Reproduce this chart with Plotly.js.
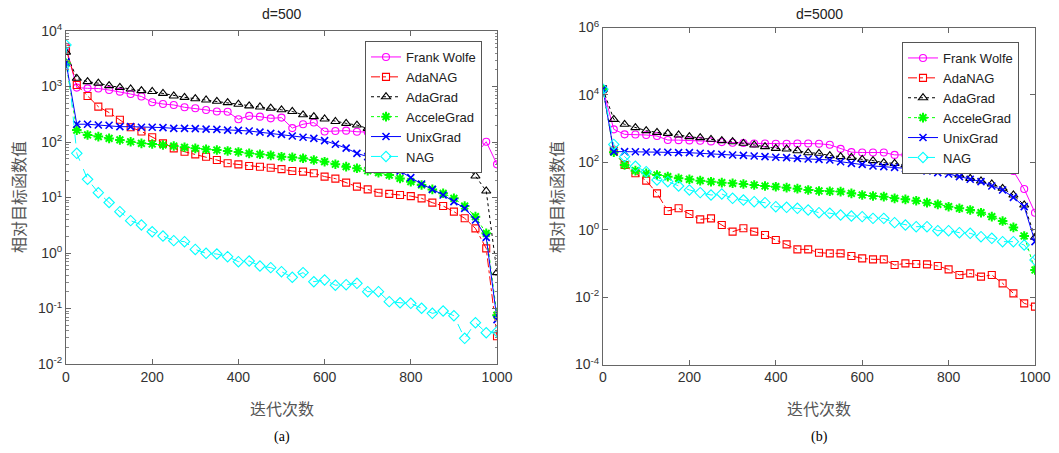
<!DOCTYPE html>
<html><head><meta charset="utf-8">
<script src="https://cdn.plot.ly/plotly-3.0.1.min.js"></script>
<style>html,body{margin:0;padding:0;background:#fff}#chart{width:1059px;height:453px}</style>
</head><body><div id="chart"></div>
<script>
const iterations = [0,25,50,75,100,125,150,175,200,225,250,275,300,325,350,375,400,425,450,475,500,525,550,575,600,625,650,675,700,725,750,775,800,825,850,875,900,925,950,975,1000];

// d = 500
const fw500 = [5200,955,927,920,865,807,733,661,519,484,465,422,405,378,355,350,257,295,286,267,275,178,209,224,155,158,160,153,151,141,132,126,112,105,95.5,89.1,79.4,70.8,58.9,101,39.6];
const adanag500 = [4790,1064,676,433,339,251,184,155,122,94.6,76.9,66.8,59.8,54.3,47.4,41.3,39.6,37.0,35.9,34.4,32.4,30.0,29.2,27.3,23.8,21.9,18.5,15.7,14.0,12.2,11.6,11.1,10.6,9.66,8.07,7.03,5.56,4.22,2.78,1.21,0.0316];
const adagrad500 = [4170,1406,1222,1148,1035,966,902,841,813,753,676,638,603,571,541,513,479,447,427,407,380,355,309,286,260,234,217,202,176,151,129,110,93.3,79.4,67.6,57.5,48.8,38.5,24.4,13.1,0.443];
const accelegrad500 = [2630,164,134,125,116,109,101,94.6,92.0,88.3,84.7,80.2,76.9,73.8,71.8,68.9,66.1,62.5,60.0,57.5,54.3,53.0,50.8,47.4,44.2,39.8,36.0,33.6,30.4,28.0,25.4,22.1,19.3,16.8,14.0,11.9,9.66,7.03,4.52,2.26,0.0759];
const unixgrad500 = [2750,209,209,202,200,189,189,184,184,182,176,176,174,171,169,164,162,158,151,143,137,128,122,116,106,91.2,77.6,62.5,54.5,45.5,37.0,30.0,22.8,17.5,14.0,11.1,8.41,6.38,3.94,1.91,0.0631];
const nag500 = [5620,62.5,21.3,12.2,8.13,5.56,3.83,3.20,2.42,2.02,1.67,1.60,1.16,0.986,0.959,0.859,0.698,0.718,0.583,0.545,0.461,0.365,0.443,0.304,0.327,0.263,0.269,0.284,0.201,0.201,0.133,0.127,0.124,0.101,0.0818,0.0902,0.0741,0.0290,0.0555,0.0366,0.0382];

// d = 5000
const fw5000 = [14800,951,676,670,646,603,457,455,447,437,417,398,380,372,363,363,355,355,363,363,355,331,251,200,195,195,195,166,166,132,117,66.1,58.9,87.1,117,61.7,61.7,61.7,55.0,16.2,3.20];
const adanag5000 = [14800,224,83.2,47.1,28.5,12.0,3.59,4.31,2.92,2.03,2.17,1.38,0.875,1.10,0.875,0.697,0.494,0.368,0.261,0.261,0.208,0.199,0.199,0.166,0.141,0.132,0.132,0.0897,0.100,0.0959,0.0938,0.0838,0.0667,0.0453,0.0507,0.0404,0.0453,0.0256,0.0129,0.00653,0.00520];
const adagrad5000 = [14800,1884,1340,1067,869,774,724,646,577,538,481,439,409,366,326,291,259,248,221,193,185,158,147,140,122,112,97.5,93.1,83.2,71.0,61.8,59.2,52.7,42.0,33.4,27.9,22.7,16.9,10.7,5.41,0.594];
const accelegrad5000 = [14800,200,83.2,56.5,47.1,42.0,37.5,33.4,31.3,28.5,26.6,24.9,23.8,22.7,21.2,19.8,18.9,17.7,16.5,15.1,14.1,13.8,13.5,12.0,10.7,10.0,9.55,8.53,7.96,7.26,6.34,5.66,4.82,4.31,3.85,3.20,2.44,1.81,1.17,0.650,0.0637];
const unixgrad5000 = [14800,207,207,206,202,202,198,193,193,185,177,173,165,161,154,147,141,137,131,125,122,117,104,93.1,87.1,77.6,74.1,71.0,66.2,59.2,55.2,49.2,45.0,37.5,31.3,26.6,19.8,15.1,9.14,4.82,0.442];
const nag5000 = [14800,339,147,75.9,52.7,29.9,26.6,19.8,15.1,12.6,10.7,11.5,8.53,7.60,6.79,6.34,4.82,4.61,4.31,3.85,3.20,3.09,2.73,2.55,2.44,2.17,2.17,1.62,1.38,1.23,1.23,0.935,0.935,0.817,0.780,0.621,0.555,0.442,0.442,0.352,0.126];

const seriesNames = ['Frank Wolfe','AdaNAG','AdaGrad','AcceleGrad','UnixGrad','NAG'];
const xTickVals = [0,200,400,600,800,1000];
const yTickVals500 = [0.01,0.1,1,10,100,1000,10000];
const yTickText500 = ['10<sup>-2</sup>','10<sup>-1</sup>','10<sup>0</sup>','10<sup>1</sup>','10<sup>2</sup>','10<sup>3</sup>','10<sup>4</sup>'];
const yTickVals5000 = [1e-4,1e-2,1,1e2,1e4,1e6];
const yTickText5000 = ['10<sup>-4</sup>','10<sup>-2</sup>','10<sup>0</sup>','10<sup>2</sup>','10<sup>4</sup>','10<sup>6</sup>'];
const panelTitles = ['d=500','d=5000'];
const xLabel = '迭代次数';
const yLabel = '相对目标函数值';
const captions = ['(a)','(b)'];

const styles = [
  {color:'#ff00ff', dash:'solid', symbol:'circle-open', size:7},
  {color:'#ff0000', dash:'dashdot', symbol:'square-open', size:7},
  {color:'#000000', dash:'dot', symbol:'triangle-up-open', size:8},
  {color:'#00ff00', dash:'dot', symbol:'asterisk-open', size:8},
  {color:'#0000ff', dash:'solid', symbol:'x-thin-open', size:7},
  {color:'#00ffff', dash:'dash', symbol:'diamond-open', size:8}
];

const data500 = [fw500, adanag500, adagrad500, accelegrad500, unixgrad500, nag500];
const data5000 = [fw5000, adanag5000, adagrad5000, accelegrad5000, unixgrad5000, nag5000];

const traces = [];
function addPanel(dataArr, xa, ya, legendId) {
  dataArr.forEach((ys, i) => {
    const s = styles[i];
    traces.push({
      x: iterations, y: ys, type: 'scatter', mode: 'lines+markers',
      name: seriesNames[i], xaxis: xa, yaxis: ya, legend: legendId,
      line: {color: s.color, width: 1, dash: s.dash},
      marker: {symbol: s.symbol, size: s.size, color: s.color, line: {color: s.color, width: (i===3) ? 2 : (i===4 ? 1.6 : 1.1)}}
    });
  });
}
addPanel(data500, 'x', 'y', 'legend');
addPanel(data5000, 'x2', 'y2', 'legend2');

const W = 1059, H = 453;
const tickFont = {family: 'Liberation Sans, Arial, sans-serif', size: 14, color: '#333'};
const axisCommon = {
  showline: true, linecolor: '#666', linewidth: 1, mirror: 'allticks',
  ticks: 'inside', ticklen: 5, tickcolor: '#666', tickwidth: 1,
  showgrid: false, zeroline: false, tickfont: tickFont
};
const legendCommon = {
  bgcolor: '#ffffff', bordercolor: '#555', borderwidth: 1,
  font: {family: 'Liberation Sans, Arial, sans-serif', size: 13, color: '#222'},
  xanchor: 'left', yanchor: 'top', tracegroupgap: 0, itemwidth: 30
};
const titleFont = {family: 'Liberation Sans, Arial, sans-serif', size: 14, color: '#222'};
const cjkFont = {family: 'Noto Sans CJK SC, sans-serif', size: 16, color: '#555'};
const capFont = {family: 'Liberation Serif, Times New Roman, serif', size: 14, color: '#000'};

const layout = {
  width: W, height: H, margin: {l: 0, r: 0, t: 0, b: 0},
  paper_bgcolor: '#fff', plot_bgcolor: '#fff', showlegend: true,
  xaxis: Object.assign({}, axisCommon, {domain: [66/W, 497/W], range: [0, 1000], tickvals: xTickVals, anchor: 'y'}),
  yaxis: Object.assign({}, axisCommon, {domain: [1-364/H, 1-31/H], type: 'log', range: [-2, 4], tickvals: yTickVals500, ticktext: yTickText500, anchor: 'x',
    minor: {ticks: 'inside', ticklen: 2.5, dtick: 'D1', tickcolor: '#888', showgrid: false}}),
  xaxis2: Object.assign({}, axisCommon, {domain: [603/W, 1035/W], range: [0, 1000], tickvals: xTickVals, anchor: 'y2'}),
  yaxis2: Object.assign({}, axisCommon, {domain: [1-364.5/H, 1-27.5/H], type: 'log', range: [-4, 6], tickvals: yTickVals5000, ticktext: yTickText5000, anchor: 'x2'}),
  legend: Object.assign({}, legendCommon, {x: 365/W, y: 1-41/H}),
  legend2: Object.assign({}, legendCommon, {x: 902/W, y: 1-42/H}),
  annotations: [
    {text: panelTitles[0], x: 281.5/W, y: 1-14/H, xref: 'paper', yref: 'paper', showarrow: false, xanchor: 'center', yanchor: 'middle', font: titleFont},
    {text: panelTitles[1], x: 819/W, y: 1-14/H, xref: 'paper', yref: 'paper', showarrow: false, xanchor: 'center', yanchor: 'middle', font: titleFont},
    {text: xLabel, x: 281.5/W, y: 1-408/H, xref: 'paper', yref: 'paper', showarrow: false, xanchor: 'center', yanchor: 'middle', font: cjkFont},
    {text: xLabel, x: 819/W, y: 1-408/H, xref: 'paper', yref: 'paper', showarrow: false, xanchor: 'center', yanchor: 'middle', font: cjkFont},
    {text: yLabel, x: 18/W, y: 1-197/H, xref: 'paper', yref: 'paper', showarrow: false, xanchor: 'center', yanchor: 'middle', textangle: -90, font: cjkFont},
    {text: yLabel, x: 556/W, y: 1-197/H, xref: 'paper', yref: 'paper', showarrow: false, xanchor: 'center', yanchor: 'middle', textangle: -90, font: cjkFont},
    {text: captions[0], x: 281.5/W, y: 1-437/H, xref: 'paper', yref: 'paper', showarrow: false, xanchor: 'center', yanchor: 'middle', font: capFont},
    {text: captions[1], x: 819/W, y: 1-437/H, xref: 'paper', yref: 'paper', showarrow: false, xanchor: 'center', yanchor: 'middle', font: capFont}
  ]
};

Plotly.newPlot('chart', traces, layout, {displayModeBar: false, staticPlot: true});
</script>
</body></html>
